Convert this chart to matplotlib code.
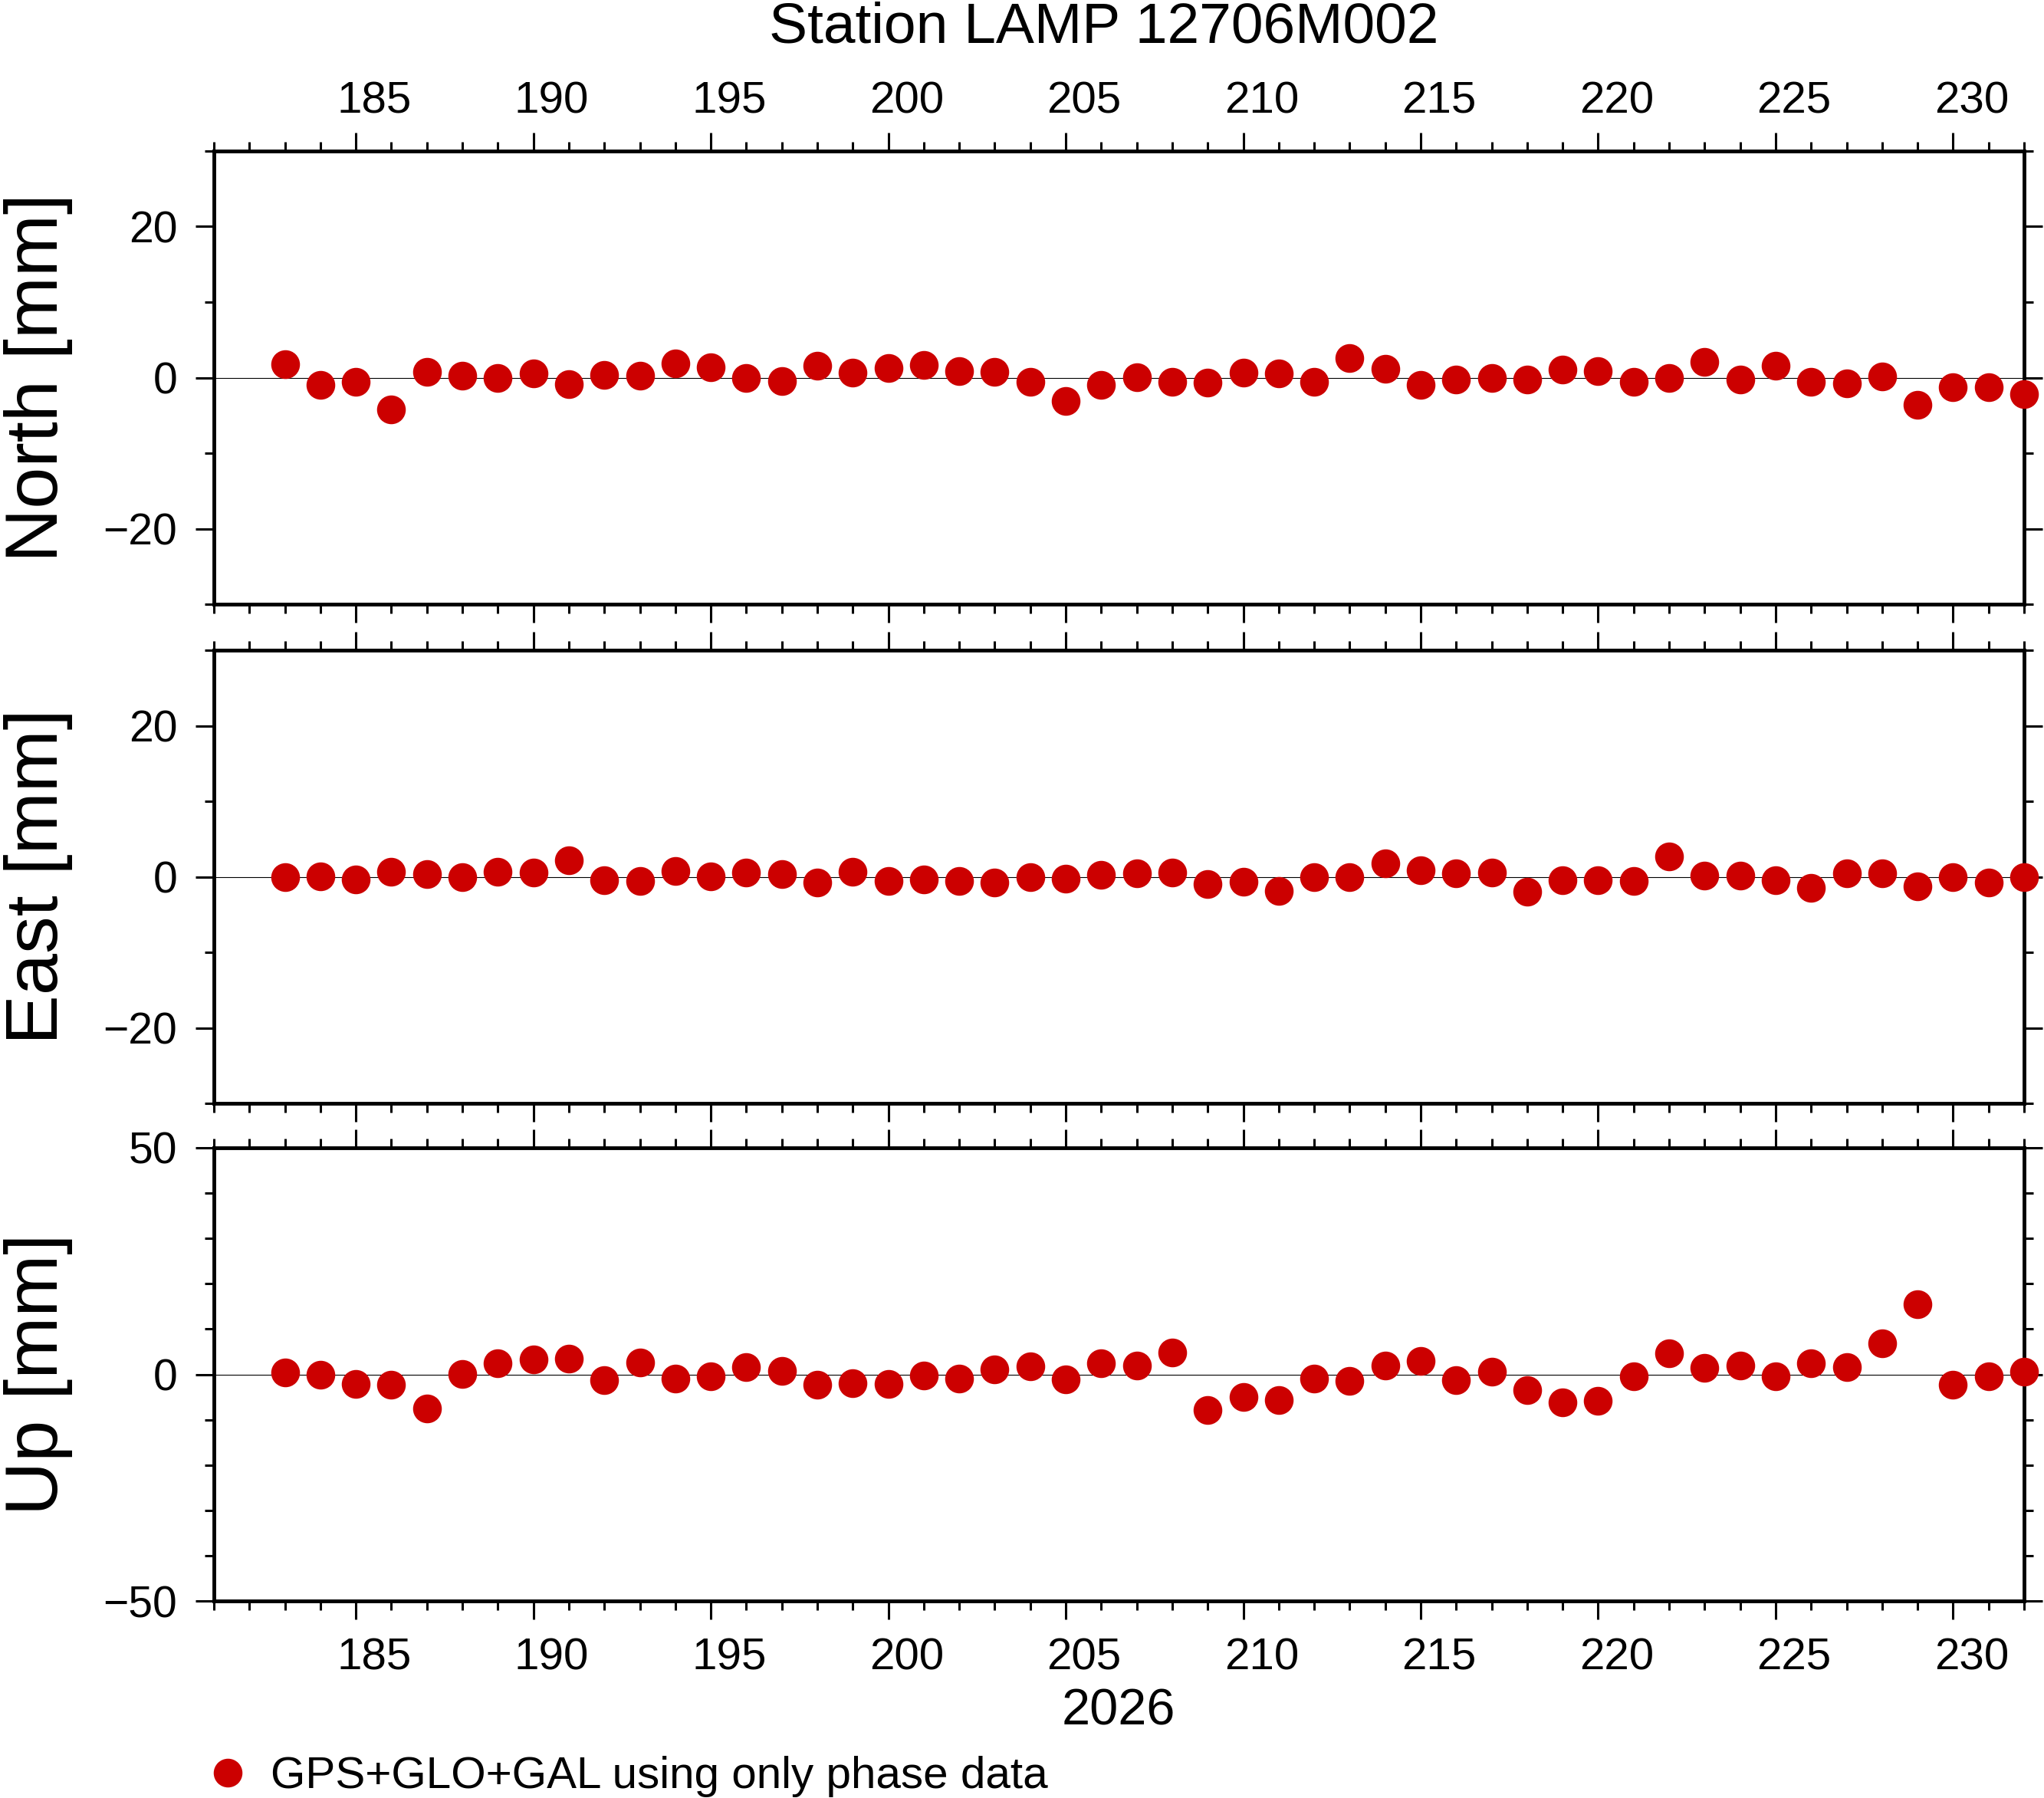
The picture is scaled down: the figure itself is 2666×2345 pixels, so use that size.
import matplotlib
matplotlib.use("Agg")
import matplotlib.pyplot as plt
from matplotlib.ticker import MultipleLocator
from matplotlib.transforms import ScaledTranslation

# ---------------------------------------------------------------------------
# Data  (day of year 2026, residuals in mm)
# ---------------------------------------------------------------------------
days = [183, 184, 185, 186, 187, 188, 189, 190, 191, 192,
        193, 194, 195, 196, 197, 198, 199, 200, 201, 202,
        203, 204, 205, 206, 207, 208, 209, 210, 211, 212,
        213, 214, 215, 216, 217, 218, 219, 220, 221, 222,
        223, 224, 225, 226, 227, 228, 229, 230, 231, 232]

north = [1.8, -1.0, -0.6, -4.2, 0.8, 0.3, -0.05, 0.6, -0.9, 0.4,
         0.3, 1.9, 1.35, 0.0, -0.5, 1.55, 0.7, 1.25, 1.7, 0.9,
         0.8, -0.6, -3.1, -1.0, 0.05, -0.6, -0.7, 0.7, 0.6, -0.6,
         2.6, 1.2, -1.0, -0.3, -0.05, -0.25, 1.1, 0.9, -0.55, -0.05,
         2.1, -0.25, 1.6, -0.6, -0.8, 0.15, -3.6, -1.3, -1.3, -2.2]

east = [0.0, 0.1, -0.35, 0.7, 0.4, 0.0, 0.7, 0.6, 2.2, -0.5,
        -0.6, 0.8, 0.1, 0.6, 0.4, -0.75, 0.7, -0.55, -0.35, -0.55,
        -0.8, -0.1, -0.3, 0.25, 0.5, 0.6, -1.0, -0.7, -1.9, 0.0,
        0.0, 1.75, 0.9, 0.5, 0.6, -1.95, -0.45, -0.5, -0.6, 2.65,
        0.2, 0.2, -0.5, -1.45, 0.5, 0.5, -1.25, 0.0, -0.75, 0.0]

up = [0.4, -0.1, -2.1, -2.3, -7.5, 0.1, 2.4, 3.3, 3.4, -1.3,
      2.7, -0.85, -0.4, 1.6, 0.75, -2.3, -2.0, -2.05, -0.2, -0.95,
      1.1, 1.8, -1.1, 2.4, 1.9, 4.75, -7.8, -5.0, -5.7, -0.95,
      -1.4, 1.9, 2.9, -1.3, 0.55, -3.5, -6.25, -5.9, -0.5, 4.6,
      1.5, 1.9, -0.5, 2.5, 1.6, 6.8, 15.4, -2.3, -0.5, 0.65]

labels = ["North [mm]", "East [mm]", "Up [mm]"]
ylims = [30, 30, 50]
ymajor = [20, 20, 50]

# ---------------------------------------------------------------------------
# Figure
# ---------------------------------------------------------------------------
plt.rcParams["font.family"] = ["Liberation Sans", "DejaVu Sans"]
W, H = 2666, 2345
fig = plt.figure(figsize=(W / 100, H / 100), dpi=100)

left = 279 / W
width = (2640 - 279) / W
height = 591 / H
tops = [197, 848, 1497]

red = "#cc0000"
series = [north, east, up]
for i, (vals, lab) in enumerate(zip(series, labels)):
    ax = fig.add_axes([left, 1 - (tops[i] + 591) / H, width, height])
    ax.axhline(0, color="black", lw=0.8, zorder=1)
    pts, = ax.plot(days, vals, "o", color=red, markersize=26, zorder=3,
                   clip_on=False, label="GPS+GLO+GAL using only phase data")
    ax.set_xlim(181, 232)
    ax.set_ylim(-ylims[i], ylims[i])
    ax.xaxis.set_major_locator(MultipleLocator(5))
    ax.xaxis.set_minor_locator(MultipleLocator(1))
    ax.yaxis.set_major_locator(MultipleLocator(ymajor[i]))
    ax.yaxis.set_minor_locator(MultipleLocator(10))
    ax.tick_params(which="both", direction="out", top=True, right=True,
                   bottom=True, left=True, width=2.2, pad=17)
    ax.tick_params(axis="x", labelsize=42)
    ax.tick_params(axis="y", labelsize=41)
    ax.tick_params(which="major", length=17.3)
    ax.tick_params(which="minor", length=8.6)
    ax.tick_params(labeltop=(i == 0), labelbottom=(i == 2), labelright=False)
    for s in ax.spines.values():
        s.set_linewidth(3.5)
    ax.set_ylabel(lab, fontsize=70)
    ax.yaxis.set_label_coords(-0.078, 0.5)

    # day labels sit half a day right of their tick (GMT interval style)
    shift_bot = ScaledTranslation(0.24, 0, fig.dpi_scale_trans)
    shift_top = ScaledTranslation(0.24, -0.10, fig.dpi_scale_trans)
    for t in ax.xaxis.get_major_ticks():
        t.label1.set_transform(t.label1.get_transform() + shift_bot)
        t.label2.set_transform(t.label2.get_transform() + shift_top)

fig.text(1439.5 / W, 1 - 56 / H, "Station LAMP 12706M002", ha="center",
         va="baseline", fontsize=54)
fig.text(1459 / W, 1 - 2249 / H, "2026", ha="center", va="baseline",
         fontsize=48)

fig.legend(handles=[pts], loc="center left", bbox_to_anchor=(274 / W, 1 - 2317 / H),
           frameon=False, fontsize=42, borderpad=0, borderaxespad=0,
           handlelength=0.8, handletextpad=0.55)

plt.savefig("out.png", dpi=100)
